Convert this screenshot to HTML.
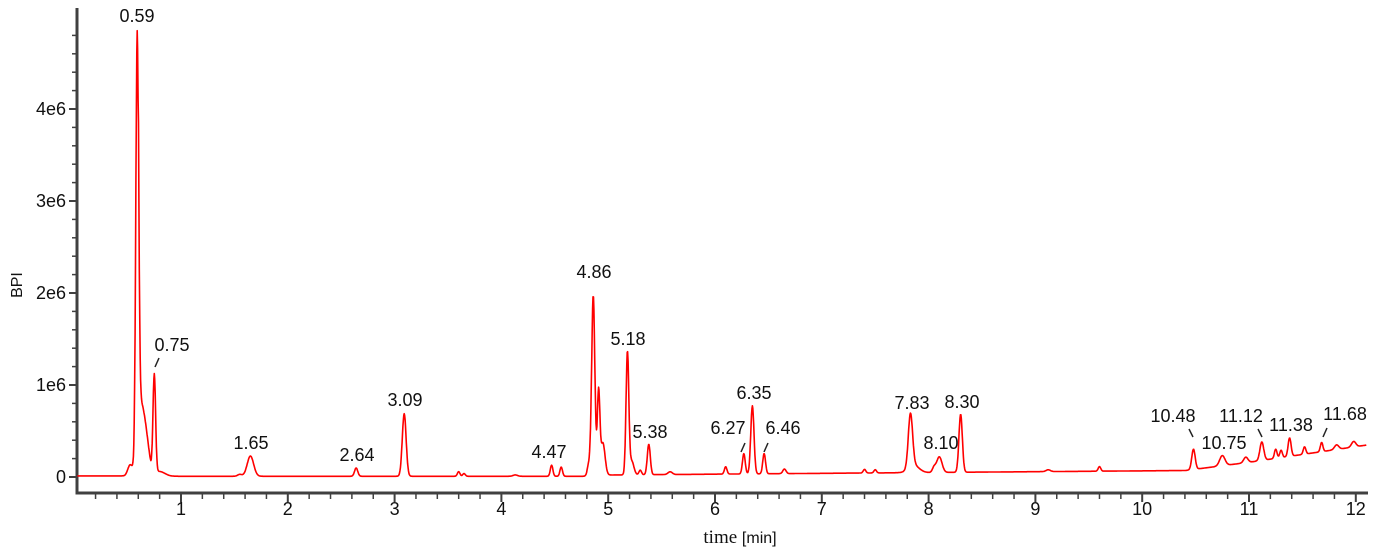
<!DOCTYPE html>
<html><head><meta charset="utf-8"><style>
html,body{margin:0;padding:0;background:#fff;}
svg text{font-family:"Liberation Sans",sans-serif;fill:#111;}
</style></head><body>
<svg id="s" width="1400" height="552" xmlns="http://www.w3.org/2000/svg">
<g id="ax" stroke="#404040" fill="none"></g>
<path id="tr" fill="none" stroke="#ff0000" stroke-width="1.6" stroke-linejoin="round"/>
<g id="lb" font-size="18"></g>
<text x="22" y="285" font-size="16" text-anchor="middle" transform="rotate(-90 22 285)">BPI</text>
<text x="740" y="543" font-size="19" text-anchor="middle" style="font-family:'Liberation Serif',serif">time <tspan font-size="16" style="font-family:'Liberation Sans',sans-serif">[min]</tspan></text>
</svg>
<script>
const X=t=>74.2+106.8*t, Y=v=>477-92*v;
const ns="http://www.w3.org/2000/svg";
const ax=document.getElementById('ax');
function ln(x1,y1,x2,y2,w){const l=document.createElementNS(ns,'line');l.setAttribute('x1',x1);l.setAttribute('y1',y1);l.setAttribute('x2',x2);l.setAttribute('y2',y2);l.setAttribute('stroke-width',w);ax.appendChild(l);}
ln(77,8,77,494.5,3); ln(75.5,493,1368,493,3);
for(let i=1;i<=60;i++){const t=i*0.2;const x=X(t);if(x<80||x>1368)continue;const maj=i%5==0;ln(x,493,x,maj?502:499,maj?2:1.5);}
for(let i=0;i<=24;i++){const y=Y(i*0.2);const maj=i%5==0;ln(maj?69:72,y,77,y,maj?2:1.5);}
const lb=document.getElementById('lb');
function tx(x,y,s,a,fs){const e=document.createElementNS(ns,'text');e.setAttribute('x',x);e.setAttribute('y',y);e.setAttribute('text-anchor',a||'middle');if(fs)e.setAttribute('font-size',fs);e.textContent=s;lb.appendChild(e);}
for(let i=1;i<=12;i++)tx(X(i),515,String(i),'middle');
['0','1e6','2e6','3e6','4e6'].forEach((s,i)=>tx(66,Y(i)+6,s,'end'));
const P=[[0.59,4.6,0.013],[0.64,0.4,0.05],[0.52,0.1,0.02],[0.75,1.05,0.012],[0.80,0.05,0.05],[1.65,0.22,0.03],[1.55,0.02,0.02],[2.64,0.09,0.015],[3.09,0.68,0.018],[3.6,0.05,0.012],[3.65,0.03,0.012],[4.13,0.015,0.02],[4.47,0.12,0.012],[4.56,0.1,0.012],
[4.86,1.95,0.015],[4.91,0.9,0.012],[4.95,0.35,0.02],[4.82,0.12,0.015],[5.18,1.33,0.013],[5.22,0.15,0.02],[5.30,0.05,0.012],[5.38,0.33,0.014],[5.58,0.03,0.02],[6.10,0.08,0.012],[6.27,0.22,0.013],[6.35,0.74,0.015],[6.46,0.22,0.013],[6.65,0.05,0.015],
[7.40,0.04,0.012],[7.50,0.035,0.012],[7.83,0.58,0.02],[7.86,0.08,0.05],[8.10,0.17,0.025],[8.05,0.05,0.015],[8.30,0.63,0.016],[9.12,0.02,0.02],[9.6,0.05,0.012],[10.48,0.22,0.016],[10.75,0.11,0.025],[10.97,0.06,0.02],[11.12,0.2,0.018],[11.25,0.1,0.012],[11.30,0.08,0.012],[11.38,0.2,0.014],[11.52,0.08,0.012],[11.68,0.1,0.012],[11.82,0.05,0.02],[11.98,0.06,0.02]];
function base(t){if(t<4.8)return 0.012+(t<0.5?0:-0.004);if(t<10.4)return 0.02+(t-4.8)*0.009;if(t<11)return 0.07+(t-10.4)*0.15;return 0.16+(t-11)*0.17;}
let d='';
const pts=[];for(let t=0.03;t<=12.1;t+=0.004)pts.push(t);pts.push(0.59);pts.sort((a,b)=>a-b);
for(const t of pts){let v=base(t);for(const p of P){const z=(t-p[0])/p[2];if(Math.abs(z)<6)v+=p[1]*Math.exp(-0.5*z*z);}
if(t>0.6&&t<0.78)v+=Math.max(0,0.55*(1-(t-0.6)/0.12))*(t<0.72?1:0);
d+=(d?'L':'M')+X(t).toFixed(1)+' '+Y(v).toFixed(1);}
document.getElementById('tr').setAttribute('d',d);
[[0.59,137,22],[0.75,172,351],[1.65,251,449],[2.64,357,461],[3.09,405,406],[4.47,549,458],[4.86,594,278],[5.18,628,345],[5.38,650,438],[6.27,728,434],[6.35,754,399],[6.46,783,434],[7.83,912,409],[8.10,941,449],[8.30,962,408],[10.48,1173,422],[10.75,1224,449],[11.12,1241,422],[11.38,1291,431],[11.68,1345,420]].forEach(a=>tx(a[1],a[2],a[0].toFixed(2)));
[[155,367,159,358],[741,452,745,443],[764,452,768,443],[1193,437,1189,429],[1262,437,1258,429],[1323,437,1327,428]].forEach(a=>{const l=document.createElementNS(ns,'line');l.setAttribute('x1',a[0]);l.setAttribute('y1',a[1]);l.setAttribute('x2',a[2]);l.setAttribute('y2',a[3]);l.setAttribute('stroke','#222');l.setAttribute('stroke-width','1.5');lb.appendChild(l);});
</script>
</body></html>
